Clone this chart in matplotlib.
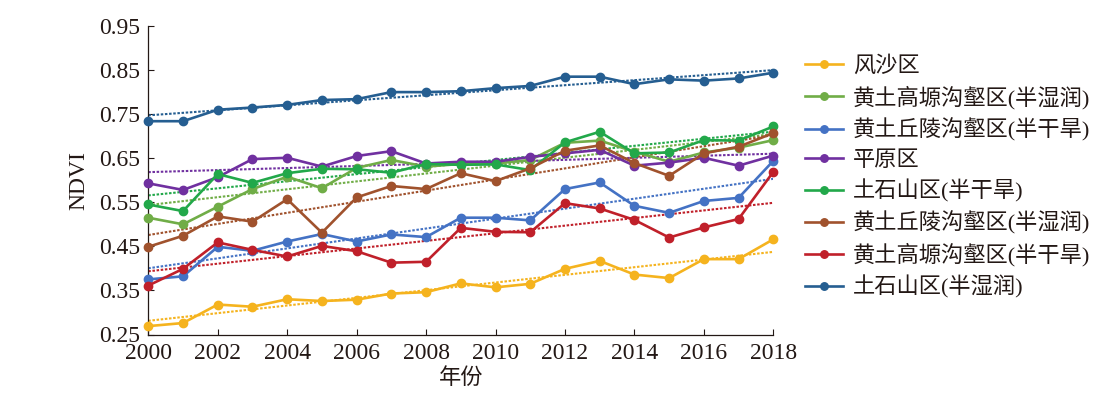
import numpy as np
import matplotlib
matplotlib.use("Agg")
import matplotlib.pyplot as plt

plt.rcParams['font.family'] = ['Liberation Serif', 'Noto Sans CJK SC']

years = np.arange(2000, 2019)

## NDVI by region
fengsha      = [0.269, 0.276, 0.318, 0.313, 0.330, 0.326, 0.329, 0.343, 0.346, 0.366,
                0.357, 0.365, 0.399, 0.417, 0.386, 0.378, 0.421, 0.421, 0.466]
gaoyuan_sh   = [0.515, 0.500, 0.540, 0.580, 0.608, 0.582, 0.628, 0.646, 0.631, 0.637,
                0.638, 0.646, 0.685, 0.690, 0.665, 0.642, 0.663, 0.674, 0.691]
qiuling_gh   = [0.375, 0.382, 0.449, 0.440, 0.461, 0.478, 0.461, 0.477, 0.471, 0.515,
                0.515, 0.509, 0.580, 0.595, 0.542, 0.526, 0.553, 0.560, 0.644]
pingyuan     = [0.593, 0.578, 0.607, 0.648, 0.651, 0.631, 0.655, 0.666, 0.638, 0.642,
                0.642, 0.653, 0.661, 0.669, 0.633, 0.640, 0.651, 0.633, 0.656]
tushi_gh     = [0.545, 0.530, 0.614, 0.594, 0.616, 0.626, 0.625, 0.617, 0.637, 0.635,
                0.636, 0.623, 0.686, 0.710, 0.661, 0.663, 0.691, 0.690, 0.722]
qiuling_sh   = [0.449, 0.474, 0.518, 0.506, 0.557, 0.481, 0.561, 0.587, 0.580, 0.616,
                0.598, 0.627, 0.667, 0.679, 0.639, 0.610, 0.661, 0.676, 0.707]
gaoyuan_gh   = [0.361, 0.399, 0.459, 0.442, 0.427, 0.451, 0.439, 0.413, 0.415, 0.492,
                0.483, 0.482, 0.548, 0.536, 0.510, 0.470, 0.493, 0.512, 0.619]
tushi_sh     = [0.734, 0.734, 0.760, 0.765, 0.771, 0.782, 0.784, 0.800, 0.800, 0.802,
                0.809, 0.814, 0.835, 0.835, 0.818, 0.829, 0.826, 0.831, 0.844]

labels = ["风沙区", "黄土高塬沟壑区(半湿润)", "黄土丘陵沟壑区(半干旱)", "平原区",
          "土石山区(半干旱)", "黄土丘陵沟壑区(半湿润)", "黄土高塬沟壑区(半干旱)", "土石山区(半湿润)"]
series = [fengsha, gaoyuan_sh, qiuling_gh, pingyuan, tushi_gh, qiuling_sh, gaoyuan_gh, tushi_sh]
colors = ["#F5B31E", "#70AD47", "#4472C4", "#7030A0", "#22A84A", "#A0522D", "#C0202A", "#255E91"]

fig = plt.figure(figsize=(11.2, 3.96), dpi=100)
ax = fig.add_axes([148.3 / 1120, 1 - 334.5 / 396, (773.3 - 148.3) / 1120, (334.5 - 26) / 396])

## linear trend lines (dotted) first, then the data lines on top
for vals, c in zip(series, colors):
    k, b = np.polyfit(years, vals, 1)
    ax.plot(years, k * years + b, color=c, linestyle=(0, (1.2, 0.8)), linewidth=1.5, zorder=2)

for vals, c, lab in zip(series, colors, labels):
    ax.plot(years, vals, color=c, linewidth=1.9, marker="o", markersize=6,
            label=lab, clip_on=False, zorder=3)

ax.set_xlim(2000, 2018)
ax.set_ylim(0.25, 0.95)
ax.set_xticks(np.arange(2000, 2019, 2))
ax.set_yticks(np.arange(0.25, 0.96, 0.1))
ax.set_yticklabels(["%.2f" % v for v in np.arange(0.25, 0.96, 0.1)])
ax.tick_params(direction="in", length=4, width=0.8, labelsize=17, colors="#231815")
ax.tick_params(axis="x", pad=6)
ax.tick_params(axis="y", pad=6)

for s in ["top", "right"]:
    ax.spines[s].set_visible(False)
for s in ["left", "bottom"]:
    ax.spines[s].set_color("#231815")
    ax.spines[s].set_linewidth(0.9)

ax.set_xlabel("年份", fontsize=16, labelpad=3, color="#231815")
ax.set_ylabel("NDVI", fontsize=17, labelpad=7, color="#231815")

ax.legend(loc="upper left", bbox_to_anchor=(0.709, 0.886), bbox_transform=fig.transFigure,
          frameon=False, fontsize=16, labelspacing=0.39, handlelength=1.7,
          handletextpad=0.45, borderpad=0, markerscale=0.9, labelcolor="#231815")

fig.savefig("out.png", dpi=100)
